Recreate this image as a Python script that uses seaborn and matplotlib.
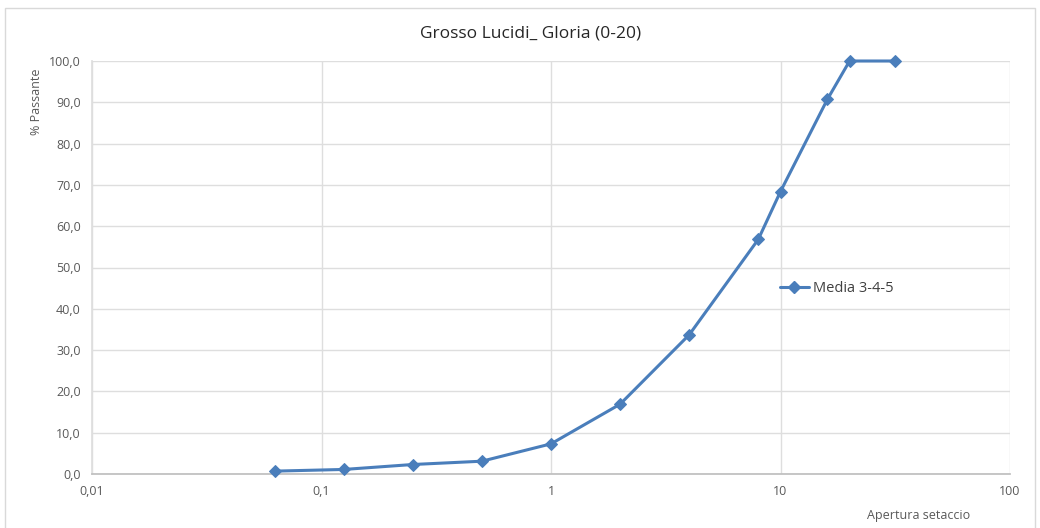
import matplotlib
matplotlib.use("Agg")
import matplotlib.pyplot as plt
import matplotlib.ticker as mticker
from matplotlib.patches import Rectangle
from matplotlib.lines import Line2D
import seaborn as sns
import pandas as pd

# Sieve openings (mm) and cumulative passing (%)
aperture = [0.063, 0.125, 0.25, 0.5, 1, 2, 4, 8, 10, 16, 20, 31.5]
passante = [0.7, 1.1, 2.3, 3.1, 7.3, 16.9, 33.7, 56.8, 68.4, 90.7, 100.0, 100.0]
series_name = "Media 3-4-5"
title = "Grosso Lucidi_ Gloria (0-20)"
xlabel = "Apertura setaccio"
ylabel = "% Passante"

df = pd.DataFrame({"x": aperture, "y": passante, "serie": series_name})

sns.set_theme(style="white")
plt.rcParams["font.family"] = ["Open Sans", "DejaVu Sans"]

blue = "#4a7ebb"
grid = "#dedede"
txt = "#595959"

fig = plt.figure(figsize=(10.4, 5.28), dpi=100)
ax = fig.add_axes([92 / 1040, 1 - 474 / 528, (1010 - 92) / 1040, (474 - 61) / 528])

sns.lineplot(data=df, x="x", y="y", hue="serie", palette=[blue], marker="D",
             markersize=6.5, markeredgecolor=blue, linewidth=2.2, ax=ax,
             legend=False, clip_on=False, zorder=5)

ax.set_xscale("log")
ax.set_xlim(0.01, 100)
ax.set_ylim(0, 100)
ax.xaxis.set_major_locator(mticker.LogLocator(base=10, numticks=10))
ax.xaxis.set_minor_locator(mticker.NullLocator())
ax.xaxis.set_major_formatter(mticker.FuncFormatter(
    lambda v, p: ("%g" % v).replace(".", ",")))
ax.yaxis.set_major_locator(mticker.MultipleLocator(10))
ax.yaxis.set_major_formatter(mticker.FuncFormatter(
    lambda v, p: ("%.1f" % v).replace(".", ",")))

ax.grid(True, color=grid, linewidth=1)
ax.set_axisbelow(True)
for side in ["top", "right"]:
    ax.spines[side].set_visible(False)
ax.spines["left"].set_color(grid)
ax.spines["bottom"].set_color("#bfbfbf")
ax.tick_params(axis="both", length=0, labelsize=9, colors=txt, pad=8)
ax.set_xlabel("")
ax.set_ylabel("")

# Legend
handle = Line2D([], [], color=blue, marker="D", markersize=6.5, linewidth=2.2)
ax.legend([handle], [series_name], loc="center left", bbox_to_anchor=(0.735, 0.45),
          frameon=False, fontsize=10.5, labelcolor="#404040", handlelength=2.0,
          handletextpad=0.3)

fig.text(531 / 1040, 1 - 34 / 528, title, ha="center", va="center",
         fontsize=12.5, color="#262626")
fig.text(37 / 1040, 1 - 102 / 528, ylabel, rotation=90, ha="center", va="center",
         fontsize=9, color=txt)
fig.text(919 / 1040, 1 - 515 / 528, xlabel, ha="center", va="center",
         fontsize=9, color=txt)

fig.patches.append(Rectangle((5 / 1040, -0.01), 1030 / 1040, 1 - 8 / 528 + 0.01,
                             transform=fig.transFigure, fill=False,
                             edgecolor="#d9d9d9", linewidth=1))

fig.savefig("out.png", dpi=100, facecolor="white")
